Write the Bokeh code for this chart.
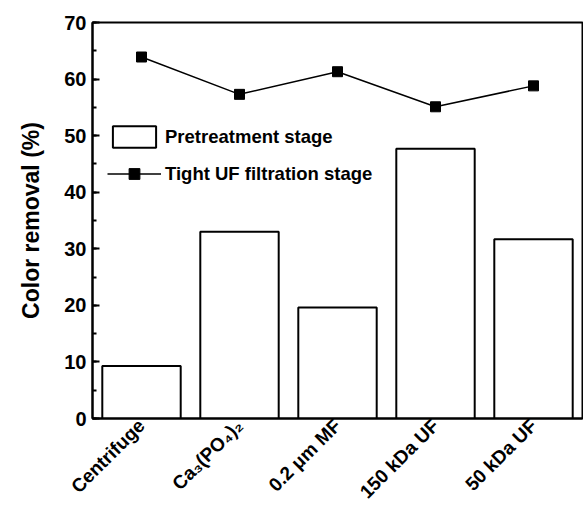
from bokeh.plotting import figure
from bokeh.models import ColumnDataSource, Legend, LegendItem, SingleIntervalTicker, Range1d, FactorRange
from bokeh.embed import file_html
from bokeh.resources import INLINE
import math

categories = ["Centrifuge", "Ca\u2083(PO\u2084)\u2082", "0.2 \u03bcm MF", "150 kDa UF", "50 kDa UF"]
pretreatment = [9.3, 33.0, 19.6, 47.7, 31.7]
tight_uf = [63.9, 57.3, 61.3, 55.1, 58.8]

FONT = "Liberation Sans"

src = ColumnDataSource(dict(cat=categories, pre=pretreatment, uf=tight_uf))

p = figure(width=583, height=512, x_range=FactorRange(*categories), y_range=Range1d(0, 70),
           output_backend="svg", toolbar_location=None,
           min_border_left=92, min_border_right=1, min_border_top=22, min_border_bottom=93)
p.background_fill_color = "white"
p.border_fill_color = "white"
p.outline_line_color = "black"
p.outline_line_width = 2
p.xgrid.visible = False
p.ygrid.visible = False

bars = p.vbar(x="cat", top="pre", width=0.8, source=src, fill_color="white",
              line_color="black", line_width=2)
ln = p.line(x="cat", y="uf", source=src, line_color="black", line_width=1.5)
sc = p.scatter(x="cat", y="uf", source=src, marker="square", size=10,
               fill_color="black", line_color="black")

# y axis
ya = p.yaxis[0]
ya.ticker = SingleIntervalTicker(interval=10, num_minor_ticks=2)
ya.axis_label = "Color removal (%)"
ya.axis_label_text_font = FONT
ya.axis_label_text_font_style = "bold"
ya.axis_label_text_font_size = "23px"
ya.axis_label_text_color = "black"
ya.axis_label_standoff = 17
ya.major_label_text_font = FONT
ya.major_label_text_font_style = "bold"
ya.major_label_text_font_size = "20px"
ya.major_label_text_color = "black"
ya.major_label_standoff = 6
ya.major_tick_in = 7
ya.major_tick_out = 0
ya.minor_tick_in = 4
ya.minor_tick_out = 0
ya.axis_line_width = 2
ya.axis_line_color = "black"
ya.major_tick_line_width = 2
ya.minor_tick_line_width = 2
ya.major_tick_line_color = "black"
ya.minor_tick_line_color = "black"

# x axis
xa = p.xaxis[0]
xa.major_label_orientation = math.pi / 4
xa.major_label_text_font = FONT
xa.major_label_text_font_style = "bold"
xa.major_label_text_font_size = "19px"
xa.major_label_text_color = "black"
xa.major_label_standoff = 4
xa.major_tick_in = 0
xa.major_tick_out = 0
xa.minor_tick_in = 0
xa.minor_tick_out = 0
xa.axis_line_width = 2
xa.axis_line_color = "black"

legend = Legend(items=[
    LegendItem(label="Pretreatment stage", renderers=[bars]),
    LegendItem(label="Tight UF filtration stage", renderers=[ln, sc]),
], location=(15, 231))
legend.border_line_color = None
legend.background_fill_alpha = 0
legend.padding = 0
legend.margin = 0
legend.spacing = 10
legend.glyph_width = 54
legend.glyph_height = 27
legend.label_height = 27
legend.label_standoff = 4
legend.label_text_font = FONT
legend.label_text_font_style = "bold"
legend.label_text_font_size = "18.5px"
legend.label_text_color = "black"
p.add_layout(legend, "center")

open("out.html", "w").write(file_html(p, INLINE))
